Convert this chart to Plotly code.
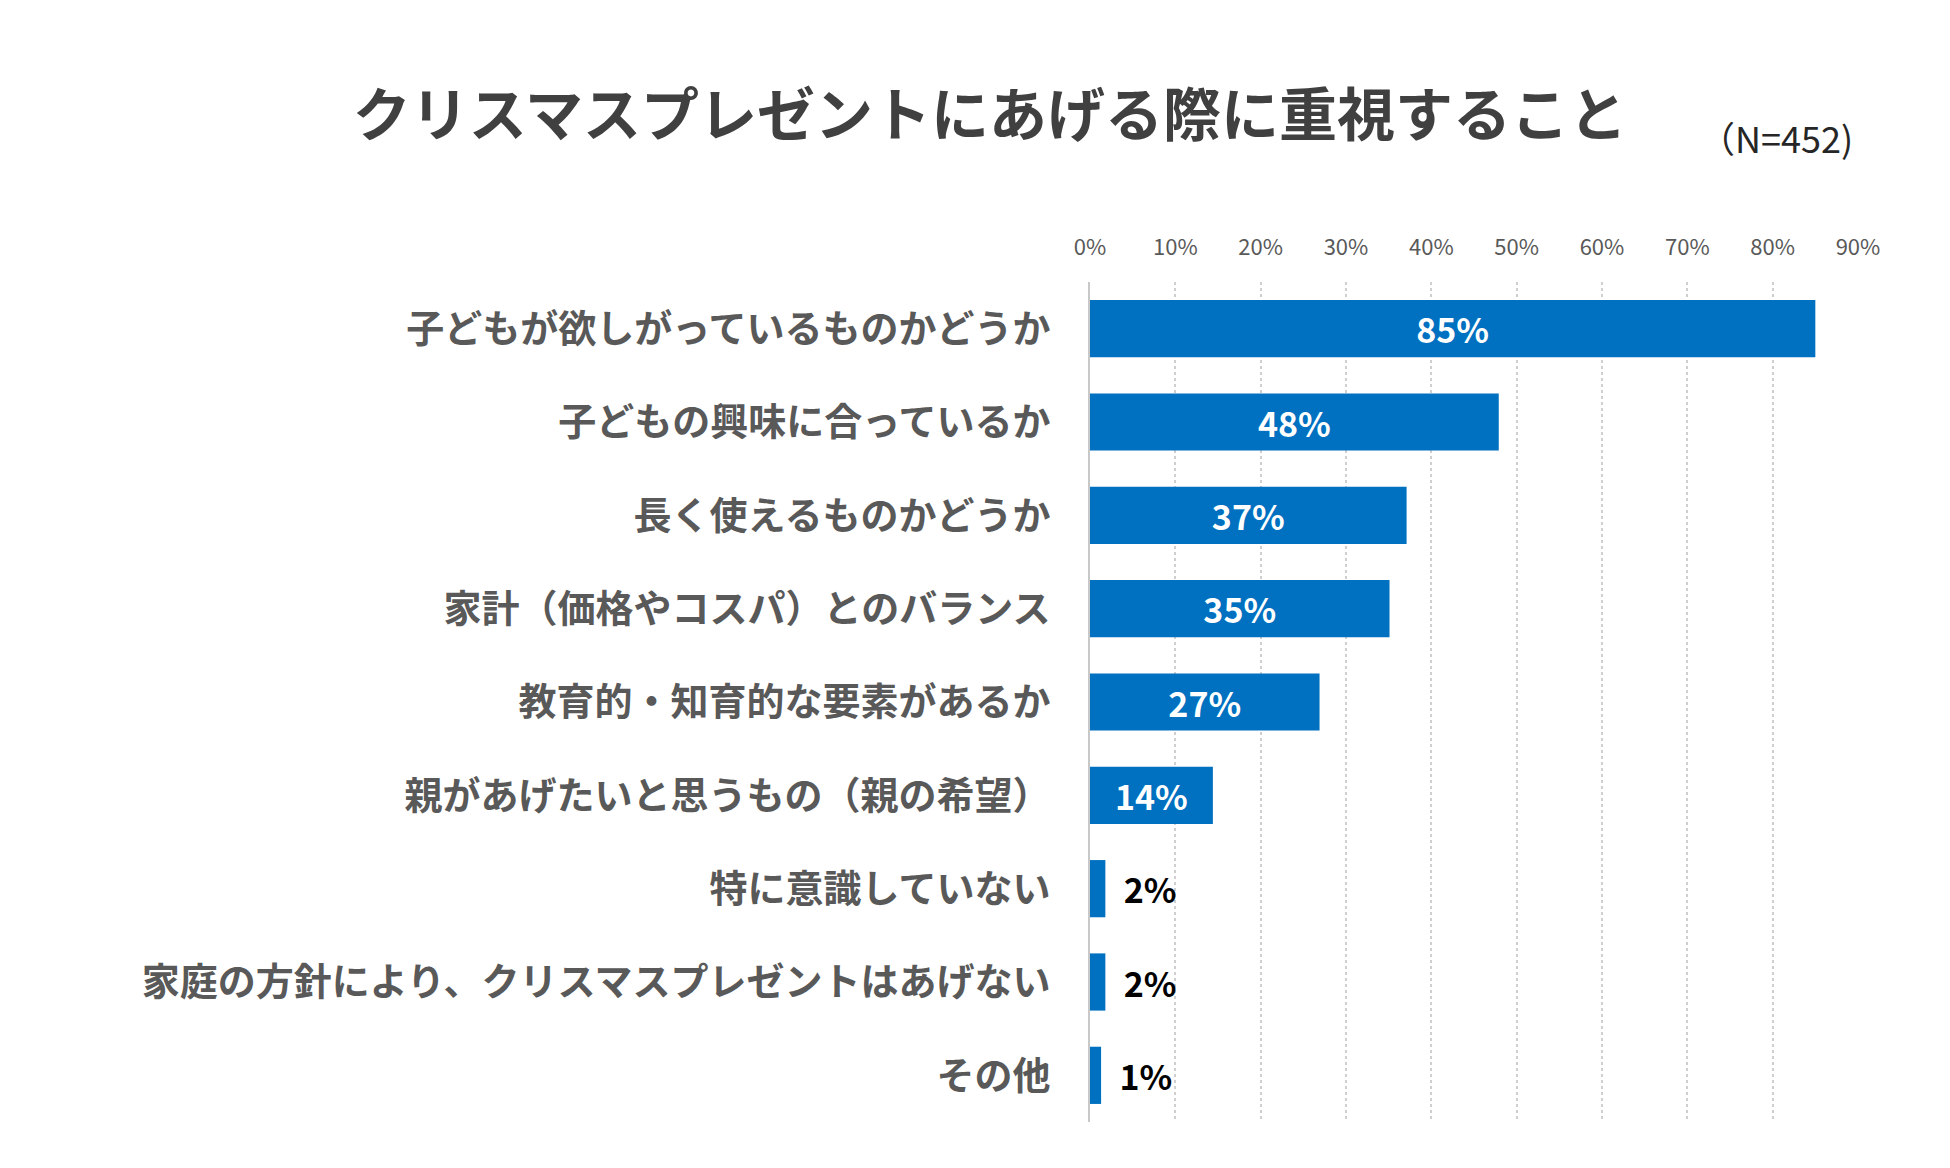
import plotly.graph_objects as go

categories = [
    "子どもが欲しがっているものかどうか",
    "子どもの興味に合っているか",
    "長く使えるものかどうか",
    "家計（価格やコスパ）とのバランス",
    "教育的・知育的な要素があるか",
    "親があげたいと思うもの（親の希望）",
    "特に意識していない",
    "家庭の方針により、クリスマスプレゼントはあげない",
    "その他",
]
values = [85.0, 47.9, 37.1, 35.1, 26.9, 14.4, 1.8, 1.8, 1.3]
tick_vals = [0, 10, 20, 30, 40, 50, 60, 70, 80, 90]
tick_text = ["0%", "10%", "20%", "30%", "40%", "50%", "60%", "70%", "80%", "90%"]

title_text = "クリスマスプレゼントにあげる際に重視すること"
n_text = "（N=452)"

FONT = "Noto Sans CJK JP"
W, H = 1950, 1168
L, R, T, B = 1082, 100, 274, 54

texts = []
positions = []
for v in values:
    if v >= 10:
        texts.append(f"<b>{v:.0f}%</b>")
        positions.append("inside")
    else:
        texts.append(f"<b>  {v:.0f}%</b>")
        positions.append("outside")

fig = go.Figure(
    go.Bar(
        x=values,
        y=categories,
        orientation="h",
        marker=dict(color="#0070C0", line=dict(width=0)),
        text=texts,
        textposition=positions,
        insidetextanchor="middle",
        insidetextfont=dict(family=FONT, size=34, color="white"),
        outsidetextfont=dict(family=FONT, size=34, color="black"),
        cliponaxis=False,
        constraintext="none",
        hoverinfo="skip",
    )
)

fig.update_layout(
    width=W,
    height=H,
    margin=dict(l=L, r=R, t=T, b=B),
    paper_bgcolor="white",
    plot_bgcolor="white",
    bargap=0.387,
    showlegend=False,
    font=dict(family=FONT, color="#595959"),
    title=dict(
        text=f"<b>{title_text}</b>",
        x=982 / W,
        xanchor="center",
        y=1 - 108 / H,
        yanchor="middle",
        font=dict(family=FONT, size=58, color="#404040"),
    ),
    xaxis=dict(
        side="top",
        range=[0, 90],
        tickvals=tick_vals,
        ticktext=tick_text,
        showgrid=True,
        gridcolor="#cfcfcf",
        griddash="dot",
        gridwidth=1.5,
        zeroline=False,
        showline=False,
        ticks="",
        ticklabelstandoff=22,
        tickfont=dict(family=FONT, size=22, color="#595959"),
        fixedrange=True,
    ),
    yaxis=dict(
        autorange="reversed",
        showgrid=False,
        showline=True,
        linecolor="#c8c8c8",
        linewidth=2,
        ticks="",
        ticklabelstandoff=30,
        tickfont=dict(family=FONT, size=38, color="#595959", weight="bold"),
        fixedrange=True,
    ),
    annotations=[
        dict(
            text=n_text,
            xref="paper",
            yref="paper",
            x=(1768 - L) / (W - L - R),
            y=1 + (T - 129) / (H - T - B),
            xanchor="center",
            yanchor="middle",
            showarrow=False,
            font=dict(family=FONT, size=36, color="#262626"),
        )
    ],
)

fig.write_html("out.html")
